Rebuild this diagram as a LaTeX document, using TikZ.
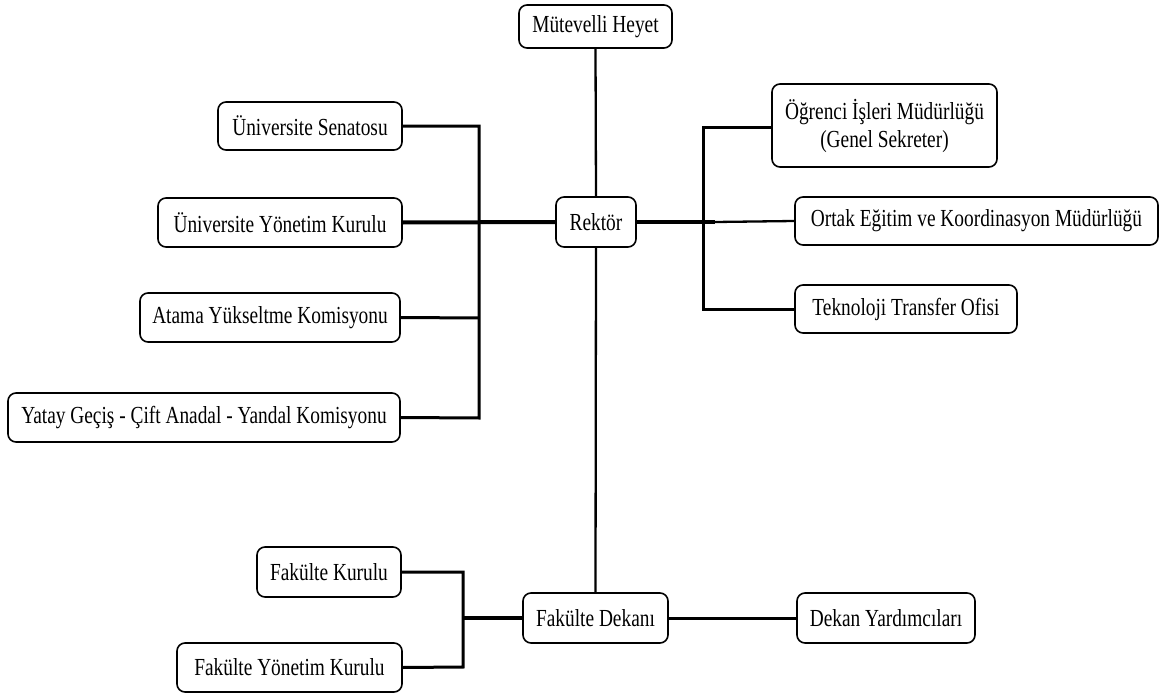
\documentclass[tikz,border=0pt]{standalone}
\usepackage{fontspec}
\setmainfont{Liberation Serif}[FakeStretch=0.79]
\begin{document}
\begin{tikzpicture}[x=1pt,y=-1pt,
  box/.style={draw,line width=1.6pt,rounded corners=8pt,fill=white,inner sep=0pt,align=center,
    font=\fontsize{24.5}{28}\selectfont},
  conn/.style={line width=3pt},
  thin/.style={line width=2.3pt},
  thick/.style={line width=4pt}]
\useasboundingbox (0,0) rectangle (1160,693);
% nodes
\node[box,minimum width=153pt,minimum height=43pt] (mut) at (595.5,26.5) {Mütevelli Heyet};
\node[box,minimum width=80pt,minimum height=50pt] (rek) at (596,222) {Rektör};
\node[box,minimum width=184pt,minimum height=48pt] (sen) at (310,126) {Üniversite Senatosu};
\node[box,minimum width=244pt,minimum height=49pt] (yon) at (280,222.5) {Üniversite Yönetim Kurulu};
\node[box,minimum width=260pt,minimum height=49pt] (ata) at (270,317.5) {Atama Yükseltme Komisyonu};
\node[box,minimum width=392pt,minimum height=49pt] (yat) at (204,417.5) {Yatay Geçiş - Çift Anadal - Yandal Komisyonu};
\node[box,minimum width=225pt,minimum height=83pt] (ogr) at (884.5,125.5) {Öğrenci İşleri Müdürlüğü\\(Genel Sekreter)};
\node[box,minimum width=363pt,minimum height=48pt] (ort) at (976.5,221) {Ortak Eğitim ve Koordinasyon Müdürlüğü};
\node[box,minimum width=222pt,minimum height=48pt] (tek) at (906,309) {Teknoloji Transfer Ofisi};
\node[box,minimum width=145pt,minimum height=50pt] (dek) at (595.5,618) {Fakülte Dekanı};
\node[box,minimum width=178pt,minimum height=50pt] (yar) at (886,618) {Dekan Yardımcıları};
\node[box,minimum width=144pt,minimum height=50pt] (fk) at (329,572) {Fakülte Kurulu};
\node[box,minimum width=225pt,minimum height=49pt] (fyk) at (289.5,667.5) {Fakülte Yönetim Kurulu};
% bus coordinates
\coordinate (lb1) at (479,126);
\coordinate (lb2) at (479,318);
\coordinate (lb3) at (479,418);
\coordinate (rb0) at (703,222);
\coordinate (rbs) at (715,222);
\coordinate (rb1) at (703,127);
\coordinate (rb3) at (703,309);
\coordinate (db0) at (463,618);
\coordinate (db1) at (463,572);
\coordinate (db2) at (463,667);
% connectors
\draw[thin] (mut.south) -- (rek.north);
\draw[thin] (rek.south) -- (dek.north);
\draw[conn] (sen.east) -- (lb1) -- (lb3) -- (yat.east);
\draw[conn] (ata.east) -- (lb2);
\draw[thick] (yon.east) -- (rek.west);
\draw[thick] (rek.east) -- (rbs);
\draw[thin] (rbs) -- (ort.west);
\draw[conn] (ogr.west |- rb1) -- (rb1) -- (rb3) -- (tek.west);
\draw[conn] (dek.east) -- (yar.west);
\draw[thick] (dek.west) -- (db0);
\draw[conn] (fk.east) -- (db1) -- (db2) -- (fyk.east);
\end{tikzpicture}
\end{document}
